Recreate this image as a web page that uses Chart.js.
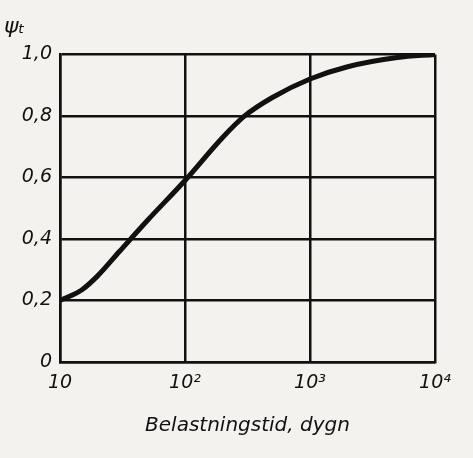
<!DOCTYPE html>
<html>
<head>
<meta charset="utf-8">
<script src="https://cdn.jsdelivr.net/npm/chart.js@4"></script>
<style>
  body { margin: 0; background: #f4f2ee; }
  #wrap { width: 473px; height: 458px; }
</style>
</head>
<body>
<div id="wrap"><canvas id="psiChart"></canvas></div>
<script>
let days = [10, 15, 20, 30, 50, 100, 200, 300, 500, 1000, 2000, 5000, 10000];
let psiValues = [0.2, 0.235, 0.28, 0.36, 0.46, 0.59, 0.73, 0.8, 0.86, 0.92, 0.96, 0.99, 1.0];
let xTickLabels = { 10: "10", 100: "10²", 1000: "10³", 10000: "10⁴" };
let yTickLabels = ["0", "0,2", "0,4", "0,6", "0,8", "1,0"];

let ctx = document.getElementById("psiChart").getContext("2d");
let tickFont = { family: "DejaVu Sans", style: "italic", size: 19 };

new Chart(ctx, {
    type: "line",
    data: {
        datasets: [{
            data: days.map((d, i) => ({ x: d, y: psiValues[i] })),
            borderColor: "#111",
            borderWidth: 5,
            pointRadius: 0,
            cubicInterpolationMode: "monotone",
            fill: false
        }]
    },
    options: {
        responsive: true,
        maintainAspectRatio: false,
        animation: false,
        layout: { padding: { left: 4, right: 38, top: 0, bottom: 12 } },
        plugins: {
            legend: { display: false },
            tooltip: { enabled: false },
            title: {
                display: true,
                text: "ψₜ",
                align: "start",
                color: "#111",
                font: { family: "DejaVu Sans", style: "italic", weight: "normal", size: 22 },
                padding: { top: 14, bottom: 14 }
            }
        },
        scales: {
            x: {
                type: "logarithmic",
                min: 10,
                max: 10000,
                afterBuildTicks: function (scale) {
                    scale.ticks = [10, 100, 1000, 10000].map(v => ({ value: v }));
                },
                afterFit: function (scale) { scale.height = 84; },
                ticks: {
                    color: "#111",
                    font: tickFont,
                    maxRotation: 0,
                    padding: 10,
                    callback: function (value) { return xTickLabels[value] || ""; }
                },
                grid: { color: "#111", lineWidth: 2.5, drawTicks: false },
                border: { color: "#111", width: 2.5 },
                title: {
                    display: true,
                    text: "Belastningstid, dygn",
                    color: "#111",
                    font: { family: "DejaVu Sans", style: "italic", size: 20 },
                    padding: { top: 6, bottom: 8 }
                }
            },
            y: {
                min: 0,
                max: 1,
                afterFit: function (scale) { scale.width = 56; },
                ticks: {
                    stepSize: 0.2,
                    color: "#111",
                    font: tickFont,
                    padding: 8,
                    callback: function (value, index) { return yTickLabels[index]; }
                },
                grid: { color: "#111", lineWidth: 2.5, drawTicks: false },
                border: { color: "#111", width: 2.5 }
            }
        }
    }
});
</script>
</body>
</html>
